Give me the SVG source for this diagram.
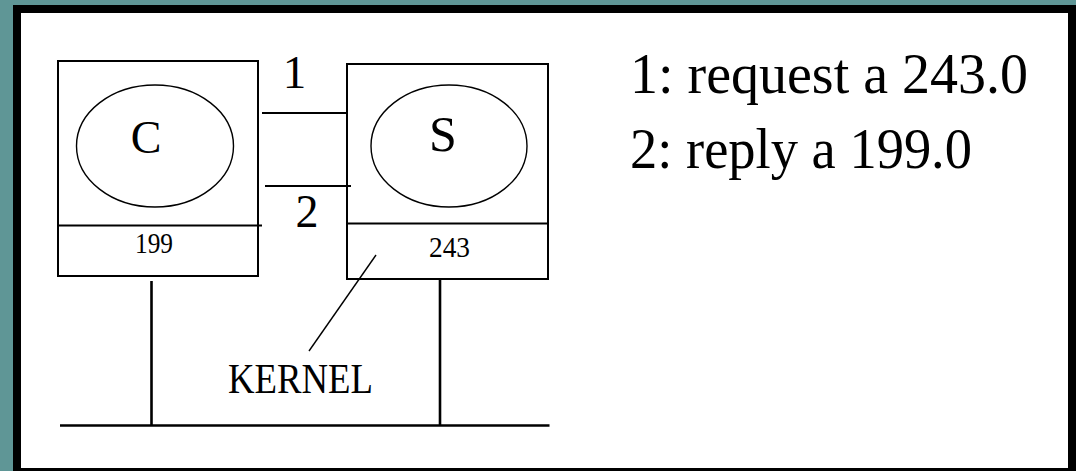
<svg xmlns="http://www.w3.org/2000/svg" width="1076" height="471" viewBox="0 0 1076 471">
  <style>
    .box { fill: none; stroke: #000; stroke-width: 2; }
    .ell { fill: none; stroke: #000; stroke-width: 1.4; }
    .ln { stroke: #000; stroke-width: 2; fill: none; }
    .bus { stroke: #000; stroke-width: 2.6; fill: none; }
    .thin { stroke: #000; stroke-width: 1.4; fill: none; }
    .lbl { font-family: "Liberation Serif", "Times New Roman", serif; fill: #000; }
    .leg { font-family: "Liberation Serif", "Times New Roman", serif; font-size: 57px; fill: #000; }
  </style>
  <rect x="0" y="0" width="1076" height="471" fill="#5f9696"/>
  <rect x="13" y="5" width="1063" height="466" fill="#000"/>
  <rect x="21" y="13" width="1047" height="455" fill="#fff"/>

  <g id="client">
    <rect class="box" x="58" y="61" width="200" height="215"/>
    <line class="box" x1="58" y1="225.5" x2="262" y2="225.5"/>
    <ellipse class="ell" cx="155" cy="146" rx="78.5" ry="61"/>
    <text class="lbl" x="146" y="153" font-size="46" text-anchor="middle">C</text>
    <text class="lbl" x="135" y="253" font-size="30" textLength="38" lengthAdjust="spacingAndGlyphs">199</text>
  </g>

  <g id="server">
    <rect class="box" x="347" y="64" width="201" height="215"/>
    <line class="box" x1="347" y1="223.5" x2="548" y2="223.5"/>
    <ellipse class="ell" cx="449" cy="146" rx="78" ry="61"/>
    <text class="lbl" x="443" y="151" font-size="50" text-anchor="middle">S</text>
    <text class="lbl" x="429" y="257" font-size="30" textLength="41" lengthAdjust="spacingAndGlyphs">243</text>
  </g>

  <g id="kernel">
    <text class="lbl" x="228" y="393" font-size="42" textLength="145" lengthAdjust="spacingAndGlyphs">KERNEL</text>
  </g>

  <g id="connectors">
    <line class="ln" x1="262" y1="113" x2="347" y2="113"/>
    <line class="ln" x1="265" y1="186" x2="351" y2="186"/>
    <text class="lbl" x="294.5" y="87.5" font-size="47" text-anchor="middle">1</text>
    <text class="lbl" x="307" y="226.5" font-size="46" text-anchor="middle">2</text>
    <line class="thin" x1="376" y1="255" x2="309" y2="351"/>
    <line class="bus" x1="151.5" y1="281" x2="151.5" y2="425"/>
    <line class="bus" x1="440" y1="280" x2="440" y2="425"/>
    <line class="bus" x1="60" y1="425.5" x2="549.5" y2="425.5"/>
  </g>

  <g id="legend">
    <text class="leg" x="630" y="93" textLength="398" lengthAdjust="spacingAndGlyphs">1: request a 243.0</text>
    <text class="leg" x="630" y="168" textLength="342" lengthAdjust="spacingAndGlyphs">2: reply a 199.0</text>
  </g>
</svg>
